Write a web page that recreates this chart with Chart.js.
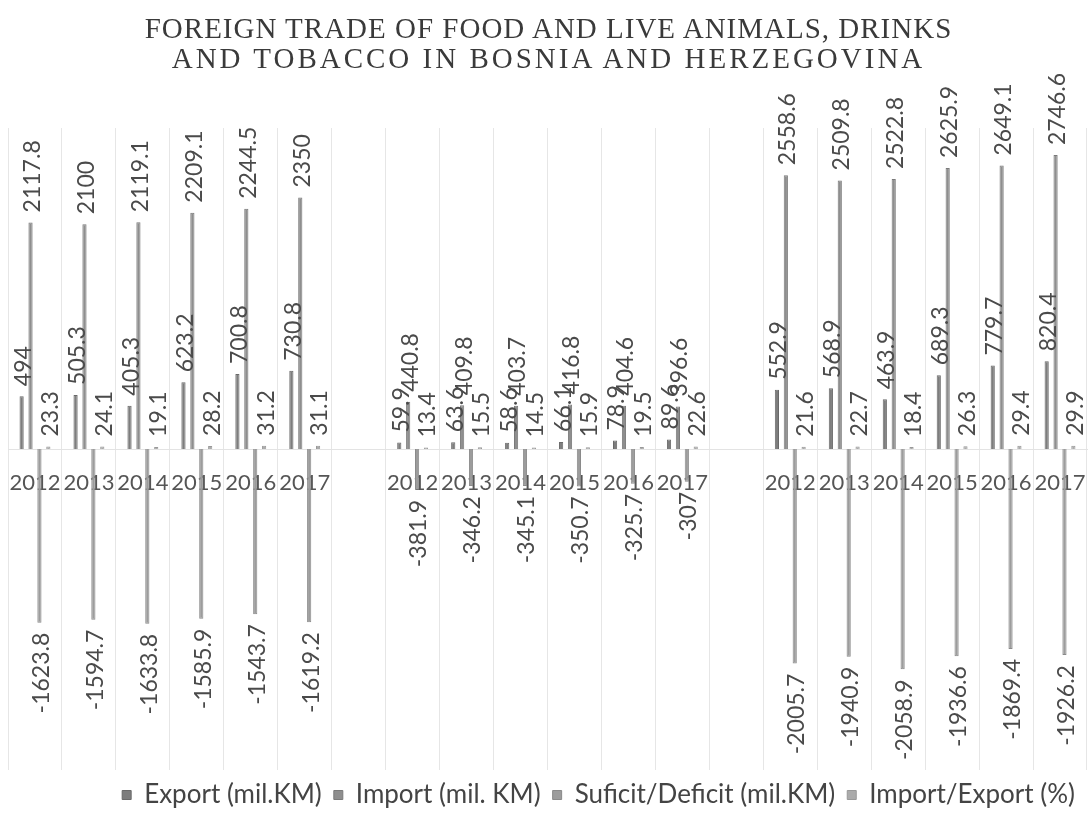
<!DOCTYPE html>
<html>
<head>
<meta charset="utf-8">
<script src="https://cdn.jsdelivr.net/npm/chart.js@4"></script>
<style>
  html, body { margin: 0; padding: 0; background: #ffffff; }
  #wrap { width: 1089px; height: 818px; position: relative; }
  #title {
    position: absolute; left: 0; top: 13px; width: 1089px; text-align: center;
    font-family: "Liberation Serif", "Times New Roman", serif; font-size: 29px;
    color: #3a3a3a; line-height: 30px; pointer-events: none;
  }
  #title .l1 { letter-spacing: 1px; padding-left: 8px; }
  #title .l2 { letter-spacing: 3px; padding-left: 8px; }
  canvas { position: absolute; left: 0; top: 0; }
</style>
</head>
<body>
<div id="wrap">
  <canvas id="c" width="1089" height="818"></canvas>
  <div id="title"></div>
</div>
<script>
// ---- data ----
const years = ['2012', '2013', '2014', '2015', '2016', '2017'];
const categories = [...years, '', ...years, '', ...years];

const exportVals  = [494, 505.3, 405.3, 623.2, 700.8, 730.8, null,
                     59.9, 63.6, 58.6, 66.1, 78.9, 89.6, null,
                     552.9, 568.9, 463.9, 689.3, 779.7, 820.4];
const importVals  = [2117.8, 2100, 2119.1, 2209.1, 2244.5, 2350, null,
                     440.8, 409.8, 403.7, 416.8, 404.6, 396.6, null,
                     2558.6, 2509.8, 2522.8, 2625.9, 2649.1, 2746.6];
const balanceVals = [-1623.8, -1594.7, -1633.8, -1585.9, -1543.7, -1619.2, null,
                     -381.9, -346.2, -345.1, -350.7, -325.7, -307, null,
                     -2005.7, -1940.9, -2058.9, -1936.6, -1869.4, -1926.2];
const ratioVals   = [23.3, 24.1, 19.1, 28.2, 31.2, 31.1, null,
                     13.4, 15.5, 14.5, 15.9, 19.5, 22.6, null,
                     21.6, 22.7, 18.4, 26.3, 29.4, 29.9];

const seriesNames = ['Export (mil.KM)', 'Import (mil. KM)', 'Suficit/Deficit (mil.KM)', 'Import/Export (%)'];
const titleLines = ['FOREIGN TRADE OF FOOD AND LIVE ANIMALS, DRINKS', 'AND TOBACCO IN BOSNIA AND HERZEGOVINA'];

document.getElementById('title').innerHTML =
  '<div class="l1"></div><div class="l2"></div>';
document.querySelector('#title .l1').textContent = titleLines[0];
document.querySelector('#title .l2').textContent = titleLines[1];

const fillColors   = ['#7d7d7d', '#8e8e8e', '#9c9c9c', '#ababab'];
const borderColors = ['#6a6a6a', '#7a7a7a', '#8a8a8a', '#999999'];

const labelFont = '"Lato", "Open Sans", sans-serif';

const barLabels = {
  id: 'barLabels',
  afterDatasetsDraw(chart) {
    const ctx = chart.ctx;
    ctx.save();
    ctx.font = '23px ' + labelFont;
    ctx.fillStyle = '#4a4a4a';
    ctx.textBaseline = 'middle';
    chart.data.datasets.forEach((ds, di) => {
      const meta = chart.getDatasetMeta(di);
      meta.data.forEach((el, i) => {
        const v = ds.data[i];
        if (v === null || v === undefined) return;
        const txt = String(v);
        const gap = 10;
        ctx.save();
        if (v >= 0) {
          ctx.translate(el.x + 2, el.y - gap);
          ctx.rotate(-Math.PI / 2);
          ctx.textAlign = 'left';
        } else {
          ctx.translate(el.x + 2, el.y + gap);
          ctx.rotate(-Math.PI / 2);
          ctx.textAlign = 'right';
        }
        ctx.fillText(txt, 0, 0);
        ctx.restore();
      });
    });
    ctx.restore();
  }
};

const datasets = [exportVals, importVals, balanceVals, ratioVals].map((arr, k) => ({
  label: seriesNames[k],
  data: arr,
  backgroundColor: fillColors[k],
  borderColor: borderColors[k],
  borderWidth: 1,
  categoryPercentage: 0.66,
  barPercentage: 0.47
}));

new Chart(document.getElementById('c'), {
  type: 'bar',
  data: { labels: categories, datasets: datasets },
  options: {
    responsive: false,
    animation: false,
    devicePixelRatio: 1,
    layout: { padding: { left: 8, right: 2, top: 128, bottom: 0 } },
    plugins: {
      title: { display: false },
      legend: {
        position: 'bottom',
        align: 'end',
        labels: {
          boxWidth: 9,
          boxHeight: 9,
          padding: 12,
          color: '#444444',
          font: { family: labelFont, size: 26 }
        }
      },
      tooltip: { enabled: false }
    },
    scales: {
      x: {
        position: { y: 0 },
        offset: true,
        grid: {
          display: true, color: '#e6e6e6', lineWidth: 1,
          drawTicks: true, tickLength: 20, tickColor: 'rgba(0,0,0,0)', offset: true
        },
        border: { display: true, color: '#e3e3e3' },
        ticks: {
          color: '#555555',
          font: { family: labelFont, size: 22 },
          padding: 1,
          maxRotation: 0,
          autoSkip: false
        }
      },
      y: {
        display: false,
        min: -3000,
        max: 3000
      }
    }
  },
  plugins: [barLabels]
});
</script>
</body>
</html>
